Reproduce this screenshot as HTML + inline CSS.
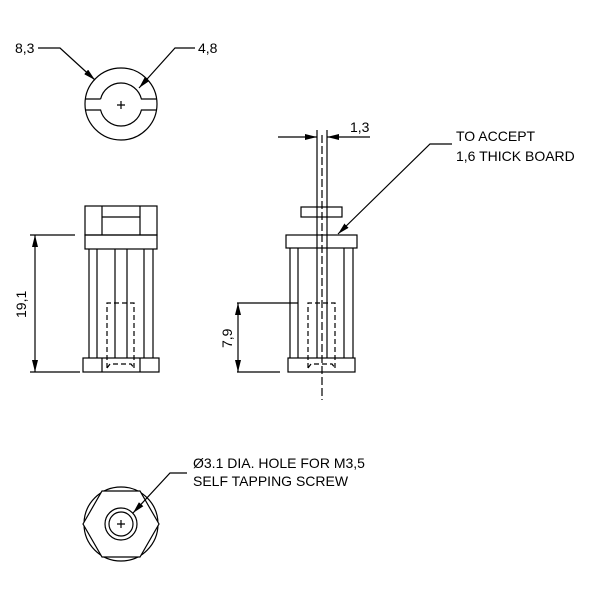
<!DOCTYPE html>
<html><head><style>body{margin:0;background:#fff}svg{display:block}text{font-family:"Liberation Sans",sans-serif;font-size:14px;fill:#000}</style></head>
<body>
<svg width="600" height="600" viewBox="0 0 600 600" xmlns="http://www.w3.org/2000/svg">
<defs>
<marker id="a" markerWidth="12" markerHeight="6" refX="12" refY="3" orient="auto" markerUnits="userSpaceOnUse"><path d="M0,0 L12,3 L0,6 z" fill="#000"/></marker>
</defs>
<g stroke="#000" stroke-width="1.2" fill="none">
<!-- top view -->
<circle cx="121" cy="104" r="36"/>
<path d="M100.6,99 A21,21 0 0 1 141.4,99 L156.6,99 M156.6,110 L141.4,110 A21,21 0 0 1 100.6,110 L85.4,110 M85.4,99 L100.6,99"/>
<path d="M117,105 h8 M121,101 v8"/>
<path d="M38,48 H60 L95,80" marker-end="url(#a)"/>
<path d="M195,48 H175 L139,88" marker-end="url(#a)"/>
<!-- left side view -->
<rect x="85" y="206" width="72" height="29"/>
<path d="M102,206 V235 M140,206 V235 M102,217 H140"/>
<rect x="85" y="235" width="72" height="14"/>
<path d="M89,249 V358 M97,249 V358 M115,249 V358 M127,249 V358 M144,249 V358 M153,249 V358"/>
<rect x="83" y="358" width="76" height="14"/>
<path d="M102,358 V372 M140,358 V372"/>
<path d="M107,368 V303 H134 V368 M107,368 l3,-4 H131 l3,4" stroke-dasharray="5,3"/>
<path d="M30,235 H75 M30,372 H80"/>
<path d="M35,250 V357" />
<path d="M35,250 V235" marker-end="url(#a)"/>
<path d="M35,357 V372" marker-end="url(#a)"/>
<!-- right side view -->
<path d="M317,130 V358 M327,130 V358"/>
<path d="M322,135 V400" stroke-dasharray="8,3"/>
<path d="M278,137 H317" marker-end="url(#a)"/>
<path d="M370,137 H327" marker-end="url(#a)"/>
<rect x="301" y="207" width="41" height="10"/>
<rect x="286" y="235" width="71" height="13"/>
<path d="M290,248 V358 M298,248 V358 M344,248 V358 M353,248 V358"/>
<rect x="288" y="358" width="67" height="14"/>
<path d="M308,368 V303 H335 V368 M308,368 l3,-4 H332 l3,4" stroke-dasharray="5,3"/>
<path d="M237,303 H298 M237,372 H280"/>
<path d="M238,318 V357"/>
<path d="M238,318 V303" marker-end="url(#a)"/>
<path d="M238,357 V372" marker-end="url(#a)"/>
<path d="M452,144 H430 L338,234" marker-end="url(#a)"/>
<!-- bottom view -->
<circle cx="121" cy="524" r="37"/>
<path d="M83,524 L102,491 H140 L159,524 L140,557 H102 Z" fill="#fff"/>
<circle cx="121" cy="524" r="16"/>
<circle cx="121" cy="524" r="12"/>
<path d="M117,524 h8 M121,520 v8"/>
<path d="M187,473 H170 L133,513" marker-end="url(#a)"/>
</g>
<text x="15" y="53">8,3</text>
<text x="198" y="53">4,8</text>
<text x="350" y="132">1,3</text>
<text x="456" y="141">TO ACCEPT</text>
<text x="456" y="161">1,6 THICK BOARD</text>
<text transform="translate(26,318) rotate(-90)">19,1</text>
<text transform="translate(232,348) rotate(-90)">7,9</text>
<text x="193" y="468">Ø3.1 DIA. HOLE FOR M3,5</text>
<text x="193" y="486">SELF TAPPING SCREW</text>
</svg>
</body></html>
